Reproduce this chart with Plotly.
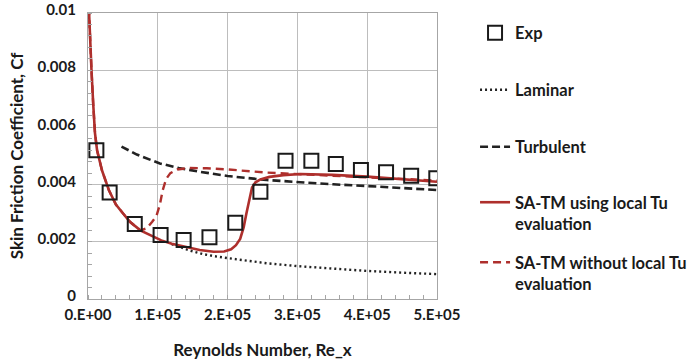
import plotly.graph_objects as go

# Experimental skin friction data
exp_re = [1.2e4, 3.1e4, 6.7e4, 1.04e5, 1.37e5, 1.74e5, 2.11e5, 2.47e5,
          2.83e5, 3.2e5, 3.55e5, 3.91e5, 4.27e5, 4.63e5, 4.99e5]
exp_cf = [0.0052, 0.00372, 0.00262, 0.00224, 0.00206, 0.00216, 0.00267, 0.00375,
          0.00483, 0.00483, 0.00472, 0.00451, 0.00443, 0.00431, 0.00422]

# Laminar correlation
lam_re = [1.2e5, 1.45e5, 1.65e5, 1.8e5, 2.03e5, 2.3e5, 2.56e5, 3.0e5,
          3.51e5, 4.0e5, 4.5e5, 5.0e5]
lam_cf = [0.00192, 0.0017, 0.00157, 0.0015, 0.00142, 0.00133, 0.00125, 0.00115,
          0.00105, 0.00098, 0.00092, 0.00087]

# Turbulent correlation
turb_re = [4.8e4, 7.0e4, 1.03e5, 1.3e5, 1.6e5, 2.0e5, 2.56e5, 3.0e5,
           3.51e5, 4.0e5, 4.47e5, 5.0e5]
turb_cf = [0.00533, 0.00505, 0.00474, 0.00458, 0.00445, 0.0043, 0.00416, 0.00408,
           0.00401, 0.00395, 0.00389, 0.00381]

# SA-TM with local Tu evaluation
local_re = [1.2e3, 3e3, 5e3, 7.5e3, 1e4, 1.3e4, 2e4, 3e4, 4e4, 5e4, 6e4, 7.5e4,
            9e4, 1.05e5, 1.2e5, 1.4e5, 1.6e5, 1.8e5, 1.95e5, 2.05e5, 2.12e5,
            2.18e5, 2.23e5, 2.27e5, 2.31e5, 2.35e5, 2.4e5, 2.47e5, 2.6e5, 2.8e5,
            3.05e5, 3.5e5, 4.0e5, 4.5e5, 5.0e5]
local_cf = [0.0102, 0.0090, 0.0080, 0.0068, 0.0058, 0.0052, 0.0045, 0.0038, 0.0033,
            0.0030, 0.0027, 0.0024, 0.00222, 0.00205, 0.00193, 0.00182, 0.00171,
            0.00165, 0.00166, 0.00174, 0.00188, 0.0021, 0.0025, 0.0030, 0.0035,
            0.0039, 0.00408, 0.00418, 0.00427, 0.00433, 0.00437, 0.00434, 0.00428,
            0.0042, 0.0041]

# SA-TM without local Tu evaluation
nolocal_re = [1.2e3, 3e3, 5e3, 7.5e3, 1e4, 1.3e4, 2e4, 3e4, 4e4, 5e4, 6e4, 7.5e4,
              8.4e4, 9.2e4, 9.8e4, 1.03e5, 1.07e5, 1.12e5, 1.18e5, 1.28e5, 1.45e5,
              1.7e5, 2.0e5, 2.56e5, 3.0e5, 3.5e5, 4.0e5, 4.5e5, 5.0e5]
nolocal_cf = [0.0102, 0.0090, 0.0080, 0.0068, 0.0058, 0.0052, 0.0045, 0.0038, 0.0033,
              0.0030, 0.0027, 0.0024, 0.00247, 0.0027, 0.0029, 0.0033, 0.0038,
              0.0042, 0.0044, 0.00453, 0.00458, 0.00457, 0.00453, 0.00442, 0.00436,
              0.0043, 0.00425, 0.0042, 0.00414]

x_ticks = [0, 1e5, 2e5, 3e5, 4e5, 5e5]
x_ticktext = ["0.E+00", "1.E+05", "2.E+05", "3.E+05", "4.E+05", "5.E+05"]
y_ticks = [0, 0.002, 0.004, 0.006, 0.008, 0.01]
y_ticktext = ["0", "0.002", "0.004", "0.006", "0.008", "0.01"]

RED = "#AE2F2C"
INK = "#1a1a1a"
FONT = "Lato"

fig = go.Figure()
fig.add_trace(go.Scatter(
    x=lam_re, y=lam_cf, mode="lines", name="Laminar", legend="legend2",
    line=dict(color="#222222", width=2.4, dash="2px,3px")))
fig.add_trace(go.Scatter(
    x=turb_re, y=turb_cf, mode="lines", name="Turbulent", legend="legend3",
    line=dict(color="#222222", width=2.6, dash="8px,4px")))
fig.add_trace(go.Scatter(
    x=nolocal_re, y=nolocal_cf, mode="lines", name="SA-TM without local Tu<br>evaluation",
    legend="legend5", line=dict(color=RED, width=2.4, dash="8px,5px")))
fig.add_trace(go.Scatter(
    x=local_re, y=local_cf, mode="lines", name="SA-TM using local Tu<br>evaluation",
    legend="legend4", line=dict(color=RED, width=2.6)))
fig.add_trace(go.Scatter(
    x=exp_re, y=exp_cf, mode="markers", name="Exp", legend="legend",
    marker=dict(symbol="square-open", size=14, color=INK, line=dict(width=2))))

legend_font = dict(family=FONT, size=16.5, color=INK, weight="bold")


def legend_at(ypix):
    return dict(x=1.109, xanchor="left", y=(299 - ypix) / 286, yanchor="middle",
                font=legend_font, bgcolor="rgba(0,0,0,0)", valign="top",
                itemsizing="trace")


fig.update_layout(
    width=689, height=363,
    margin=dict(l=88, r=252, t=13, b=64, autoexpand=False),
    paper_bgcolor="white", plot_bgcolor="white",
    showlegend=True,
    legend=legend_at(33),
    legend2=legend_at(90),
    legend3=legend_at(147),
    legend4=legend_at(213),
    legend5=legend_at(273),
    font=dict(family=FONT, size=15, color=INK),
)

axis_common = dict(
    showline=True, linecolor="#A6A6A6", linewidth=1.3, mirror=True,
    showgrid=True, gridcolor="#BDBDBD", gridwidth=1.3,
    zeroline=False, ticks="",
    tickfont=dict(family=FONT, size=15, color=INK, weight="bold"),
)

fig.update_xaxes(
    range=[0, 5e5], tickvals=x_ticks, ticktext=x_ticktext,
    ticklabelstandoff=2,
    title=dict(text="Reynolds Number, Re_x", standoff=21,
               font=dict(family=FONT, size=17, color=INK, weight="bold")),
    minor=dict(ticks="inside", ticklen=4, dtick=2e4, tickcolor="#A6A6A6", showgrid=False),
    **axis_common)
fig.update_yaxes(
    range=[0, 0.01], tickvals=y_ticks, ticktext=y_ticktext,
    ticklabelstandoff=8, ticklabelshift=-3,
    title=dict(text="Skin Friction Coefficient, Cf", standoff=9,
               font=dict(family=FONT, size=17, color=INK, weight="bold")),
    minor=dict(ticks="inside", ticklen=4, dtick=0.0004, tickcolor="#A6A6A6", showgrid=False),
    **axis_common)

fig.write_html("out.html")
